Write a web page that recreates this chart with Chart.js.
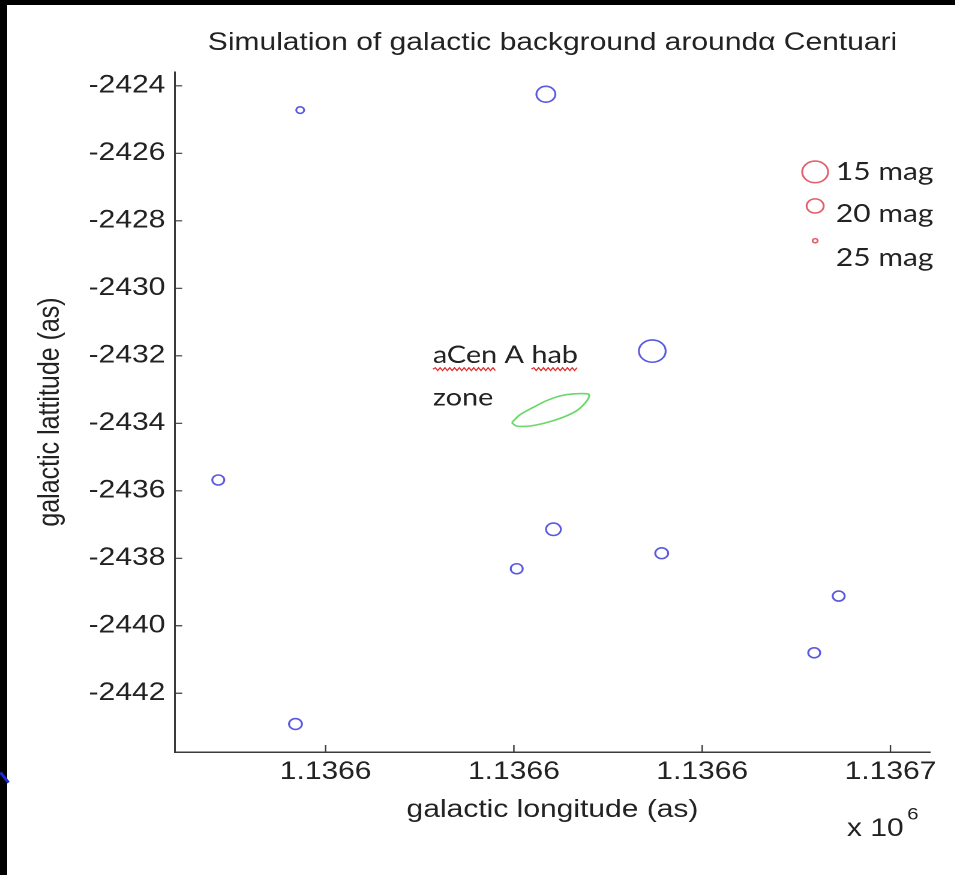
<!DOCTYPE html>
<html>
<head>
<meta charset="utf-8">
<title>Simulation of galactic background around α Centuari</title>
<script src="https://cdn.jsdelivr.net/npm/chart.js@4.4.0/dist/chart.umd.min.js"></script>
<style>
  html, body { margin: 0; padding: 0; background: #fff; }
  #page { position: relative; width: 955px; height: 875px; overflow: hidden; background: #fff; }
  /* the original screenshot is stretched sideways, so the whole chart is too */
  #stretch { position: absolute; left: 0; top: 0; width: 796px; height: 875px; transform: scaleX(1.2); transform-origin: 0 0; }
  .bar-top { position: absolute; left: 0; top: 0; width: 955px; height: 5px; background: #000; }
  .bar-left { position: absolute; left: 0; top: 0; width: 7px; height: 875px; background: #000; }
  .slide-line { position: absolute; left: -2px; top: 776px; width: 13px; height: 3px; background: #1a2bd0; transform: rotate(52deg); }
</style>
</head>
<body>
<div id="page">
  <div id="stretch"><canvas id="sky" width="796" height="875"></canvas></div>
  <div class="bar-top"></div>
  <div class="bar-left"></div>
  <div class="slide-line"></div>
</div>
<script>
// ====== DATA ======
// background stars (galactic longitude / latitude in arcsec, magnitude)
const starLon = [1136597.3, 1136623.4, 1136634.7, 1136588.6, 1136624.2, 1136620.3, 1136635.7, 1136654.5, 1136651.9, 1136596.8];
const starLat = [-2424.72, -2424.25, -2431.86, -2435.68, -2437.14, -2438.31, -2437.85, -2439.12, -2440.80, -2442.91];
const starMag = [23.8, 18.9, 14.5, 22.1, 20.9, 22.1, 21.7, 22.1, 22.1, 21.7];

// magnitude key
const keyMag = [15, 20, 25];
const keyLon = [1136652.0, 1136652.0, 1136652.0];
const keyLat = [-2426.55, -2427.56, -2428.59];
const keyText = ['15 mag', '20 mag', '25 mag'];

// aCen A habitable zone outline
const habLon = [1136619.78, 1136620.63, 1136622.04, 1136623.46, 1136624.88, 1136626.29, 1136627.88, 1136627.99,
                1136627.53, 1136626.65, 1136625.23, 1136623.46, 1136621.69, 1136620.28, 1136619.78];
const habLat = [-2433.98, -2433.75, -2433.53, -2433.33, -2433.19, -2433.13, -2433.13, -2433.21,
                -2433.41, -2433.63, -2433.82, -2433.98, -2434.08, -2434.08, -2433.98];

// axes
const lonMin = 1136584.0, lonMax = 1136664.2;
const latMin = -2443.74, latMax = -2423.59;
const lonTicks = [1136600, 1136620, 1136640, 1136660];
const lonTickLabels = ['1.1366', '1.1366', '1.1366', '1.1367'];
const latTicks = [-2442, -2440, -2438, -2436, -2434, -2432, -2430, -2428, -2426, -2424];

// ====== STYLE ======
const BLUE = '#5a5ae0';
const RED = '#e2606c';
const GREEN = '#6ad86a';
const AXIS = '#3a3a3a';
const TEXT = '#222';
const MATLAB_FONT = 'Liberation Sans, Arial, sans-serif';
const SLIDE_FONT = 'Lato, Carlito, sans-serif';
const keyRadius = [10.8, 7.1, 2.1];

function magToRadius(mag) {
    // piecewise linear through the key sizes
    let i = mag <= keyMag[1] ? 0 : 1;
    const t = (mag - keyMag[i]) / (keyMag[i + 1] - keyMag[i]);
    return keyRadius[i] + t * (keyRadius[i + 1] - keyRadius[i]);
}

function toPoints(lons, lats) {
    return lons.map((v, i) => ({ x: v, y: lats[i] }));
}

// ====== PLUGINS ======
const inwardTicks = {
    id: 'inwardTicks',
    afterDraw(chart) {
        const { ctx, chartArea, scales: { x, y } } = chart;
        ctx.save();
        ctx.strokeStyle = AXIS;
        ctx.lineWidth = 1.2;
        ctx.beginPath();
        x.ticks.forEach(t => {
            const px = x.getPixelForValue(t.value);
            ctx.moveTo(px, chartArea.bottom);
            ctx.lineTo(px, chartArea.bottom - 7);
        });
        y.ticks.forEach(t => {
            const py = y.getPixelForValue(t.value);
            ctx.moveTo(chartArea.left, py);
            ctx.lineTo(chartArea.left + 6, py);
        });
        ctx.stroke();
        ctx.restore();
    }
};

function squiggle(ctx, x0, x1, yy) {
    ctx.beginPath();
    let up = true;
    ctx.moveTo(x0, yy);
    for (let xx = x0 + 2; xx <= x1; xx += 2) {
        ctx.lineTo(xx, yy + (up ? -1.4 : 1.4));
        up = !up;
    }
    ctx.stroke();
}

const annotate = {
    id: 'annotate',
    afterDraw(chart) {
        const { ctx, chartArea, scales: { x, y } } = chart;
        ctx.save();
        ctx.fillStyle = TEXT;
        ctx.textAlign = 'left';
        ctx.textBaseline = 'middle';
        ctx.font = '25px ' + SLIDE_FONT;

        // magnitude key text
        keyText.forEach((t, i) => {
            const ly = [-2426.55, -2427.80, -2429.10][i];
            ctx.fillText(t, x.getPixelForValue(1136654.2), y.getPixelForValue(ly));
        });

        // habitable zone label
        ctx.font = '24px ' + SLIDE_FONT;
        const hx = x.getPixelForValue(1136611.4);
        const hy1 = y.getPixelForValue(-2431.98);
        const hy2 = y.getPixelForValue(-2433.25);
        ctx.fillText('aCen A hab', hx, hy1);
        ctx.fillText('zone', hx, hy2);

        // spell-check underline
        ctx.strokeStyle = '#e02828';
        ctx.lineWidth = 1.1;
        const w1 = ctx.measureText('aCen').width;
        const off = ctx.measureText('aCen A ').width;
        const w2 = ctx.measureText('hab').width;
        squiggle(ctx, hx, hx + w1, hy1 + 14);
        squiggle(ctx, hx + off, hx + off + w2, hy1 + 14);

        // x 10^6 multiplier
        ctx.font = '25px ' + MATLAB_FONT;
        ctx.textAlign = 'right';
        ctx.fillText('x 10', chartArea.right - 22, chartArea.bottom + 77);
        ctx.font = '17px ' + MATLAB_FONT;
        ctx.textAlign = 'left';
        ctx.fillText('6', chartArea.right - 19, chartArea.bottom + 63);
        ctx.restore();
    }
};

// ====== CHART ======
const chartInstance = new Chart(document.getElementById('sky'), {
    type: 'scatter',
    data: {
        datasets: [
            {
                label: 'stars',
                data: toPoints(starLon, starLat),
                pointStyle: 'circle',
                pointRadius: ctx => magToRadius(starMag[ctx.dataIndex]),
                borderColor: BLUE,
                backgroundColor: 'rgba(0,0,0,0)',
                pointBorderWidth: 1.6
            },
            {
                label: 'key',
                data: toPoints(keyLon, keyLat),
                pointStyle: 'circle',
                pointRadius: ctx => magToRadius(keyMag[ctx.dataIndex]),
                borderColor: RED,
                backgroundColor: 'rgba(0,0,0,0)',
                pointBorderWidth: 1.6
            },
            {
                label: 'aCen A hab zone',
                data: toPoints(habLon, habLat),
                showLine: true,
                tension: 0.35,
                pointRadius: 0,
                borderColor: GREEN,
                borderWidth: 1.6,
                fill: false
            }
        ]
    },
    options: {
        responsive: false,
        animation: false,
        devicePixelRatio: 2,
        layout: { padding: { left: 0, right: 21, top: 0, bottom: 23 } },
        plugins: {
            legend: { display: false },
            tooltip: { enabled: false },
            title: {
                display: true,
                fullSize: false,
                text: 'Simulation of galactic background aroundα Centuari',
                color: TEXT,
                font: { family: MATLAB_FONT, size: 25, weight: 'normal', lineHeight: 1.2 },
                padding: { top: 28, bottom: 14 }
            }
        },
        scales: {
            x: {
                type: 'linear',
                min: lonMin,
                max: lonMax,
                afterBuildTicks: s => { s.ticks = lonTicks.map(v => ({ value: v })); },
                afterFit: s => { s.height = 100; s.paddingLeft = 0; s.paddingRight = 0; },
                grid: { display: false, drawTicks: false },
                border: { display: true, color: AXIS, width: 1.5 },
                ticks: {
                    padding: 5,
                    color: TEXT,
                    font: { family: MATLAB_FONT, size: 25 },
                    callback: (v, i) => lonTickLabels[i]
                },
                title: {
                    display: true,
                    text: 'galactic longitude (as)',
                    color: TEXT,
                    font: { family: MATLAB_FONT, size: 25, lineHeight: 1.2 },
                    padding: { top: 0, bottom: 27 }
                }
            },
            y: {
                type: 'linear',
                min: latMin,
                max: latMax,
                afterBuildTicks: s => { s.ticks = latTicks.map(v => ({ value: v })); },
                afterFit: s => { s.width = 145.8; s.paddingTop = 0; s.paddingBottom = 0; },
                grid: { display: false, drawTicks: false },
                border: { display: true, color: AXIS, width: 1.5 },
                ticks: {
                    padding: 8,
                    color: TEXT,
                    font: { family: MATLAB_FONT, size: 25 },
                    callback: v => String(v)
                },
                title: {
                    display: true,
                    text: 'galactic lattitude (as)',
                    color: TEXT,
                    font: { family: MATLAB_FONT, size: 25, lineHeight: 1.2 },
                    padding: { top: 27, bottom: 0 }
                }
            }
        }
    },
    plugins: [inwardTicks, annotate]
});
</script>
</body>
</html>
